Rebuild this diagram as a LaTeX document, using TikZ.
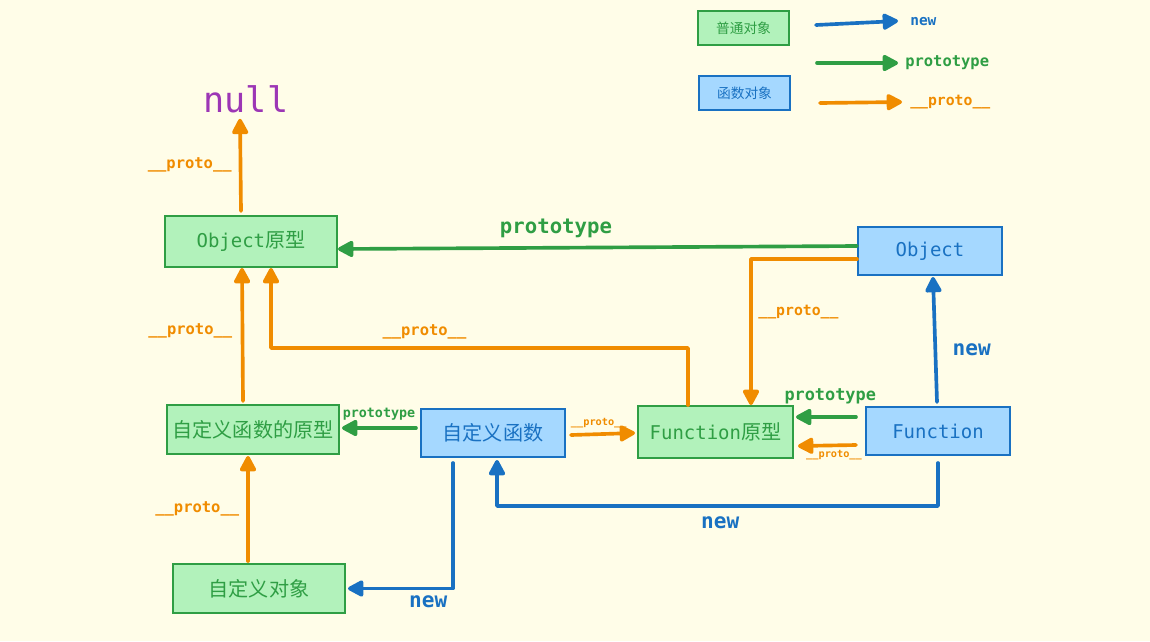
\documentclass[tikz,border=0pt]{standalone}
\usepackage{fontspec}
\setmonofont{DejaVu Sans Mono}
\newfontfamily\cjk[Scale=1.06]{Noto Sans CJK SC}
\usepackage{tikz}
\usetikzlibrary{arrows.meta,calc}
\definecolor{paper}{HTML}{FFFDE8}
\definecolor{plainborder}{HTML}{2F9E44}
\definecolor{plainbg}{HTML}{B2F2BB}
\definecolor{funcborder}{HTML}{1971C2}
\definecolor{funcbg}{HTML}{A5D8FF}
\definecolor{newblue}{HTML}{1971C2}
\definecolor{protogreen}{HTML}{2F9E44}
\definecolor{protoorange}{HTML}{F08C00}
\definecolor{nullpurple}{HTML}{9C36B5}
\newcommand{\zhtxt}[1]{{\cjk #1}}

\begin{document}
\begin{tikzpicture}[
  x=0.025cm, y=-0.025cm,
  plainbox/.style={draw=plainborder,fill=plainbg,text=plainborder,line width=1.4pt,
    inner sep=0pt,font=\ttfamily\fontsize{13.5}{16}\selectfont},
  funcbox/.style={draw=funcborder,fill=funcbg,text=funcborder,line width=1.4pt,
    inner sep=0pt,font=\ttfamily\fontsize{13.5}{16}\selectfont},
  lbl/.style={inner sep=0pt,font=\ttfamily\bfseries\fontsize{#1}{#1}\selectfont},
  ar/.style={-{Triangle[round,length=12.5pt,width=12.5pt]},line width=2.6pt,line cap=round,line join=round},
  nw/.style={ar,color=newblue},
  pt/.style={ar,color=protogreen},
  pr/.style={ar,color=protoorange}
]
\useasboundingbox (0,0) rectangle (1150,641);
\fill[paper] (0,0) rectangle (1150,641);

% ==================== 1. LEGEND ====================
\node[plainbox, minimum width=2.275cm, minimum height=0.85cm,
      font=\cjk\fontsize{9.2}{11}\selectfont] (legplain) at (743.5,28) {普通对象};
\node[funcbox, minimum width=2.275cm, minimum height=0.85cm,
      font=\cjk\fontsize{9.2}{11}\selectfont] (legfunc) at (744.5,93) {函数对象};

\coordinate (lgnewfrom) at (816,25);
\node[lbl=10.3, text=newblue, anchor=west] (lgnew) at (910,22) {new};
\draw[nw] (lgnewfrom) -- ($(lgnew.west)+(-12,-1)$);

\coordinate (lgptfrom) at (817,63);
\node[lbl=11, text=protogreen, anchor=west] (lgpt) at (905,63) {prototype};
\draw[pt] (lgptfrom) -- ($(lgpt.west)+(-7,0)$);

\coordinate (lgprfrom) at (820,103);
\node[lbl=10.5, text=protoorange, anchor=west] (lgpr) at (910,102) {\_\_proto\_\_};
\draw[pr] (lgprfrom) -- ($(lgpr.west)+(-8,0)$);

% ==================== 2. OBJECTS ====================
\node[inner sep=0pt, anchor=base, text=nullpurple,
      font=\ttfamily\fontsize{25}{29}\selectfont] (nullnode) at (246,112) {null};

\node[plainbox, minimum width=4.3cm, minimum height=1.275cm] (objproto) at (251,241.5) {Object\zhtxt{原型}};
\node[funcbox, minimum width=3.6cm, minimum height=1.2cm] (obj) at (930,251) {Object};
\node[plainbox, minimum width=4.3cm, minimum height=1.225cm] (myfnproto) at (253,429.5) {\zhtxt{自定义函数的原型}};
\node[funcbox, minimum width=3.6cm, minimum height=1.2cm] (myfn) at (493,433) {\zhtxt{自定义函数}};
\node[plainbox, minimum width=3.875cm, minimum height=1.3cm] (fnproto) at (715.5,432) {Function\zhtxt{原型}};
\node[funcbox, minimum width=3.6cm, minimum height=1.2cm] (fn) at (938,431) {Function};
\node[plainbox, minimum width=4.3cm, minimum height=1.225cm] (myobj) at (259,588.5) {\zhtxt{自定义对象}};

% ==================== 3. LINKS ====================
\draw[pr] ($(objproto.north)+(-10,-4)$) -- node[lbl=11, pos=.5, left=5pt] {\_\_proto\_\_} ($(nullnode.south)+(-6,6)$);

\draw[pt] ($(obj.west)+(0,-5)$) -- node[lbl=14.7, pos=.58, above=6pt] {prototype} ($(objproto.east)+(0,7.5)$);
\draw[pr] ($(obj.west)+(0,8)$) -| node[lbl=10.5, pos=.68, right=4pt] {\_\_proto\_\_} ($(fnproto.north)+(35.5,0)$);
\draw[pr] ($(fnproto.north)+(-27.5,0)$) -- ++(0,-57) -| node[lbl=11, pos=.316, above=5pt] {\_\_proto\_\_} ($(objproto.south)+(20,0)$);
\draw[pr] ($(myfnproto.north)+(-10,-3)$) -- node[lbl=11, pos=.53, left=6pt] {\_\_proto\_\_} ($(objproto.south)+(-9,0)$);

\draw[pt] ($(myfn.west)+(-4,-5)$) -- node[lbl=9.5, midway, above=4pt] {prototype} ($(myfnproto.east)+(2,-1.5)$);
\draw[pr] ($(myfn.east)+(5,2)$) -- node[lbl=7.3, midway, above=3pt, xshift=-3pt] {\_\_proto\_\_} ($(fnproto.west)+(-2,1)$);
\draw[pt] ($(fn.west)+(-9,-14)$) -- node[lbl=12, midway, above=8pt, xshift=3pt] {prototype} ($(fnproto.east)+(2,-15)$);
\draw[pr] ($(fn.west)+(-9,14)$) -- node[lbl=7.3, midway, below=2pt, xshift=5pt] {\_\_proto\_\_} ($(fnproto.east)+(4,14)$);

\draw[nw] ($(fn.north)+(-1,-4)$) -- node[lbl=15, pos=.42, right=11pt] {new} ($(obj.south)+(3,1)$);
\draw[nw] ($(fn.south)+(0,7)$) -- ++(0,43) -| node[lbl=15, pos=.247, below=6pt] {new} ($(myfn.south)+(4,2)$);
\draw[nw] ($(myfn.south)+(-40,5)$) |- node[lbl=15, pos=.618, below=4pt] {new} ($(myobj.east)+(2,0)$);
\draw[pr] ($(myobj.north)+(-11,-2)$) -- node[lbl=11, midway, left=5pt] {\_\_proto\_\_} ($(myfnproto.south)+(-5,1)$);

\end{tikzpicture}
\end{document}
